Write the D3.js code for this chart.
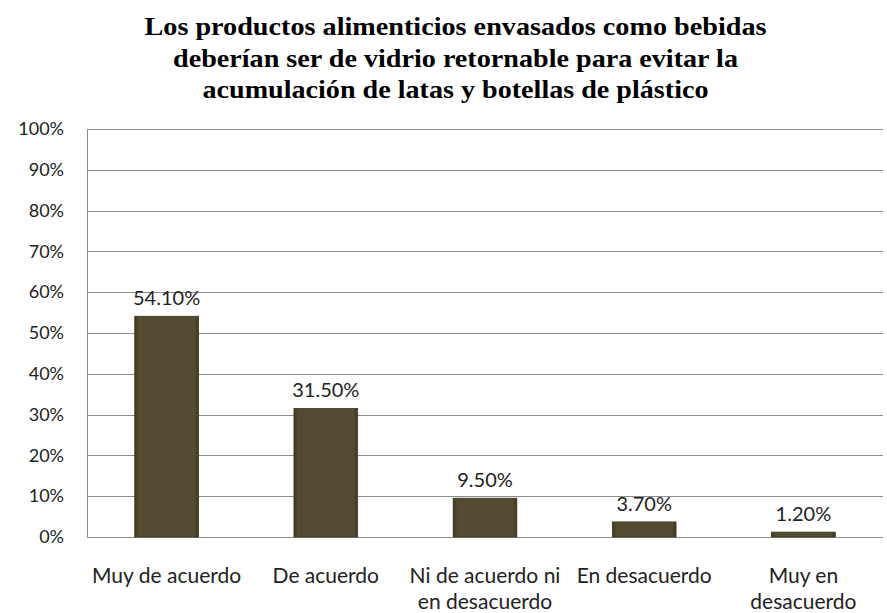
<!DOCTYPE html>
<html><head><meta charset="utf-8">
<script src="https://cdn.jsdelivr.net/npm/d3@7"></script>
<style>body{margin:0;background:#fff}</style>
</head><body>
<svg id="c" width="887" height="613"></svg>
<script>
const categories = [["Muy de acuerdo"],["De acuerdo"],["Ni de acuerdo ni","en desacuerdo"],["En desacuerdo"],["Muy en","desacuerdo"]];
const values = [54.1, 31.5, 9.5, 3.7, 1.2];
const valueLabels = ["54.10%","31.50%","9.50%","3.70%","1.20%"];
const yTicks = [0,10,20,30,40,50,60,70,80,90,100];
const titleLines = ["Los productos alimenticios envasados como bebidas","deberían ser de vidrio retornable para evitar la","acumulación de latas y botellas de plástico"];

const svg = d3.select("#c");
const m = {left:87, right:883, top:129, bottom:537};
const x = d3.scaleBand().domain(d3.range(values.length)).range([m.left, m.right]).paddingInner(0.6).paddingOuter(0.3);
const y = d3.scaleLinear().domain([0,100]).range([m.bottom, m.top]);

const defs = svg.append("defs");
const g1 = defs.append("linearGradient").attr("id","bg").attr("x1",0).attr("x2",1).attr("y1",0).attr("y2",0);
g1.append("stop").attr("offset","0").attr("stop-color","#3e3922");
g1.append("stop").attr("offset","0.07").attr("stop-color","#544c32");
g1.append("stop").attr("offset","0.93").attr("stop-color","#544c32");
g1.append("stop").attr("offset","1").attr("stop-color","#3e3922");

// title
svg.append("g").selectAll("text").data(titleLines).join("text")
  .attr("x",455.5).attr("y",(d,i)=>35+i*31.5)
  .attr("text-anchor","middle")
  .attr("font-family","Liberation Serif, serif").attr("font-weight","bold")
  .attr("font-size",26).attr("fill","#000")
  .attr("textLength", (d,i)=>[622,565,506][i]).attr("lengthAdjust","spacingAndGlyphs")
  .text(d=>d);

// gridlines
svg.append("g").selectAll("line").data(yTicks).join("line")
  .attr("x1",m.left).attr("x2",m.right)
  .attr("y1",d=>Math.round(y(d))+0.5).attr("y2",d=>Math.round(y(d))+0.5)
  .attr("stroke","#8c8c8c").attr("stroke-width",1);
svg.append("line").attr("x1",m.left+0.5).attr("x2",m.left+0.5).attr("y1",m.top).attr("y2",m.bottom)
  .attr("stroke","#8c8c8c");

// y axis labels
const yAxis = d3.axisLeft(y).tickValues(yTicks).tickFormat(d=>d+"%").tickSize(0).tickPadding(23);
const ya = svg.append("g").attr("transform",`translate(${m.left},0)`).call(yAxis);
ya.select(".domain").remove();
ya.selectAll("text").attr("font-family","Lato, 'Open Sans', sans-serif").attr("font-size",18).attr("fill","#222");

// bars
svg.append("g").selectAll("rect").data(values).join("rect")
  .attr("x",(d,i)=>x(i)).attr("width",x.bandwidth())
  .attr("y",d=>y(d)).attr("height",d=>y(0)-y(d))
  .attr("fill","url(#bg)").attr("stroke","#3a3520").attr("stroke-width",0.8);

// value labels
svg.append("g").selectAll("text").data(values).join("text")
  .attr("x",(d,i)=>x(i)+x.bandwidth()/2).attr("y",d=>y(d)-11)
  .attr("text-anchor","middle")
  .attr("font-family","Lato, 'Open Sans', sans-serif").attr("font-size",20).attr("fill","#222")
  .text((d,i)=>valueLabels[i]);

// category labels
const cg = svg.append("g").selectAll("text").data(categories).join("text")
  .attr("text-anchor","middle")
  .attr("font-family","Lato, 'Open Sans', sans-serif").attr("font-size",21).attr("fill","#222");
cg.each(function(d,i){
  d3.select(this).selectAll("tspan").data(d).join("tspan")
    .attr("x",x(i)+x.bandwidth()/2).attr("y",(t,j)=>583+j*26).text(t=>t);
});
</script>
</body></html>
